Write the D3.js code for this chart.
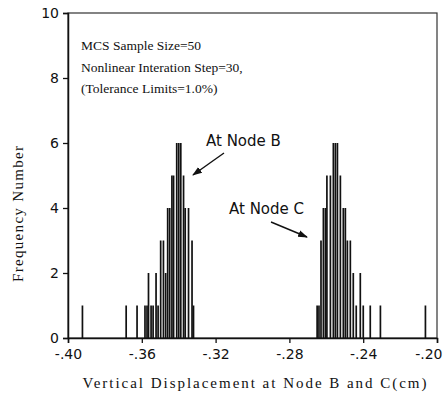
<!DOCTYPE html>
<html>
<head>
<meta charset="utf-8">
<script src="https://cdn.jsdelivr.net/npm/d3@7"></script>
<style>
  html, body { margin: 0; padding: 0; background: #fff; }
  svg { display: block; }
</style>
</head>
<body>
<svg id="chart" width="443" height="404"></svg>
<script>
// Displacement values (cm) and their frequencies, node B
const nodeBValues = [-0.3922, -0.3685, -0.3626, -0.3583, -0.3572, -0.3564, -0.3550, -0.3539,
  -0.3523, -0.3512, -0.3498, -0.3483, -0.3471, -0.3460, -0.3449, -0.3437, -0.3428,
  -0.3411, -0.3400, -0.3389, -0.3374, -0.3365, -0.3347, -0.3328, -0.3320];
const nodeBCounts = [1, 1, 1, 1, 1, 2, 1, 1,
  2, 1, 3, 3, 2, 4, 4, 5, 5,
  6, 6, 6, 5, 4, 4, 3, 1];

// Displacement values (cm) and their frequencies, node C
const nodeCValues = [-0.2650, -0.2640, -0.2629, -0.2616, -0.2605, -0.2597, -0.2578,
  -0.2562, -0.2551, -0.2540, -0.2524, -0.2508, -0.2497, -0.2486, -0.2470, -0.2454,
  -0.2438, -0.2416, -0.2400, -0.2362, -0.2307, -0.2063];
const nodeCCounts = [1, 1, 3, 4, 4, 5, 5,
  6, 6, 6, 5, 4, 4, 3, 3, 2,
  1, 2, 1, 1, 1, 1];

const xTicks = [-0.40, -0.36, -0.32, -0.28, -0.24, -0.20];
const xTickLabels = ["-.40", "-.36", "-.32", "-.28", "-.24", "-.20"];
const yTicks = [0, 2, 4, 6, 8, 10];

const notes = ["MCS Sample Size=50", "Nonlinear Interation Step=30,", "(Tolerance Limits=1.0%)"];

const svg = d3.select("#chart");
const plotLeft = 68, plotRight = 437, plotTop = 13, plotBottom = 338;

const x = d3.scaleLinear().domain([-0.40, -0.20]).range([plotLeft, plotRight]);
const y = d3.scaleLinear().domain([0, 10]).range([plotBottom, plotTop]);

const serif = "'Liberation Serif', 'DejaVu Serif', serif";
const sans = "'DejaVu Sans', 'Liberation Sans', sans-serif";

// frame
svg.append("rect")
  .attr("x", plotLeft).attr("y", plotTop)
  .attr("width", plotRight - plotLeft).attr("height", plotBottom - plotTop)
  .attr("fill", "none").attr("stroke", "#333").attr("stroke-width", 1.2);

// x axis
const xAxis = d3.axisBottom(x)
  .tickValues(xTicks)
  .tickSize(5)
  .tickFormat((d, i) => xTickLabels[i]);
const gx = svg.append("g").attr("transform", `translate(0,${plotBottom})`).call(xAxis);
gx.select(".domain").attr("stroke", "#111").attr("stroke-width", 1.5);
gx.selectAll(".tick line").attr("stroke", "#111").attr("stroke-width", 1.3);
gx.selectAll(".tick text")
  .attr("font-family", sans).attr("font-size", 14).attr("fill", "#111")
  .attr("dy", "0.9em");
// the last label sits against the right edge of the page
gx.selectAll(".tick text").filter((d, i) => i === xTicks.length - 1)
  .attr("text-anchor", "end").attr("x", 442 - plotRight);

// y axis
const yAxis = d3.axisLeft(y).tickValues(yTicks).tickSize(5).tickPadding(4);
const gy = svg.append("g").attr("transform", `translate(${plotLeft},0)`).call(yAxis);
gy.select(".domain").attr("stroke", "#111").attr("stroke-width", 1.5);
gy.selectAll(".tick line").attr("stroke", "#111").attr("stroke-width", 1.3);
gy.selectAll(".tick text")
  .attr("font-family", sans).attr("font-size", 14).attr("fill", "#111");

// frequency spikes
function drawSpikes(values, counts) {
  const data = values.map((v, i) => ({ v, c: counts[i] }));
  svg.append("g").selectAll("rect").data(data).enter().append("rect")
    .attr("x", d => x(d.v) - 0.8)
    .attr("width", 1.7)
    .attr("y", d => y(d.c))
    .attr("height", d => y(0) - y(d.c))
    .attr("fill", "#111");
}
drawSpikes(nodeBValues, nodeBCounts);
drawSpikes(nodeCValues, nodeCCounts);

// notes block
svg.append("g").selectAll("text").data(notes).enter().append("text")
  .attr("x", 81)
  .attr("y", (d, i) => 50 + i * 21.5)
  .attr("font-family", serif).attr("font-size", 13.5).attr("fill", "#111")
  .text(d => d);

// annotations
svg.append("defs").append("marker")
  .attr("id", "head").attr("viewBox", "0 0 10 10")
  .attr("refX", 9).attr("refY", 5)
  .attr("markerWidth", 7).attr("markerHeight", 7)
  .attr("orient", "auto-start-reverse")
  .append("path").attr("d", "M0,1.5 L10,5 L0,8.5 Z").attr("fill", "#111");

svg.append("text").attr("x", 206).attr("y", 146)
  .attr("font-family", sans).attr("font-size", 15).attr("fill", "#111")
  .text("At Node B");
svg.append("line")
  .attr("x1", 224).attr("y1", 153).attr("x2", 193).attr("y2", 175)
  .attr("stroke", "#111").attr("stroke-width", 1.4)
  .attr("marker-end", "url(#head)");

svg.append("text").attr("x", 229).attr("y", 214)
  .attr("font-family", sans).attr("font-size", 15).attr("fill", "#111")
  .text("At Node C");
svg.append("line")
  .attr("x1", 271).attr("y1", 222).attr("x2", 307).attr("y2", 237)
  .attr("stroke", "#111").attr("stroke-width", 1.4)
  .attr("marker-end", "url(#head)");

// axis titles
svg.append("text")
  .attr("x", (plotLeft + plotRight) / 2 + 2).attr("y", 388)
  .attr("text-anchor", "middle")
  .attr("font-family", serif).attr("font-size", 15).attr("fill", "#111")
  .attr("textLength", 344).attr("lengthAdjust", "spacing")
  .text("Vertical Displacement at Node B and C(cm)");

svg.append("text")
  .attr("transform", `translate(23,214) rotate(-90)`)
  .attr("text-anchor", "middle")
  .attr("font-family", serif).attr("font-size", 15).attr("fill", "#111")
  .attr("textLength", 136).attr("lengthAdjust", "spacing")
  .text("Frequency Number");
</script>
</body>
</html>
